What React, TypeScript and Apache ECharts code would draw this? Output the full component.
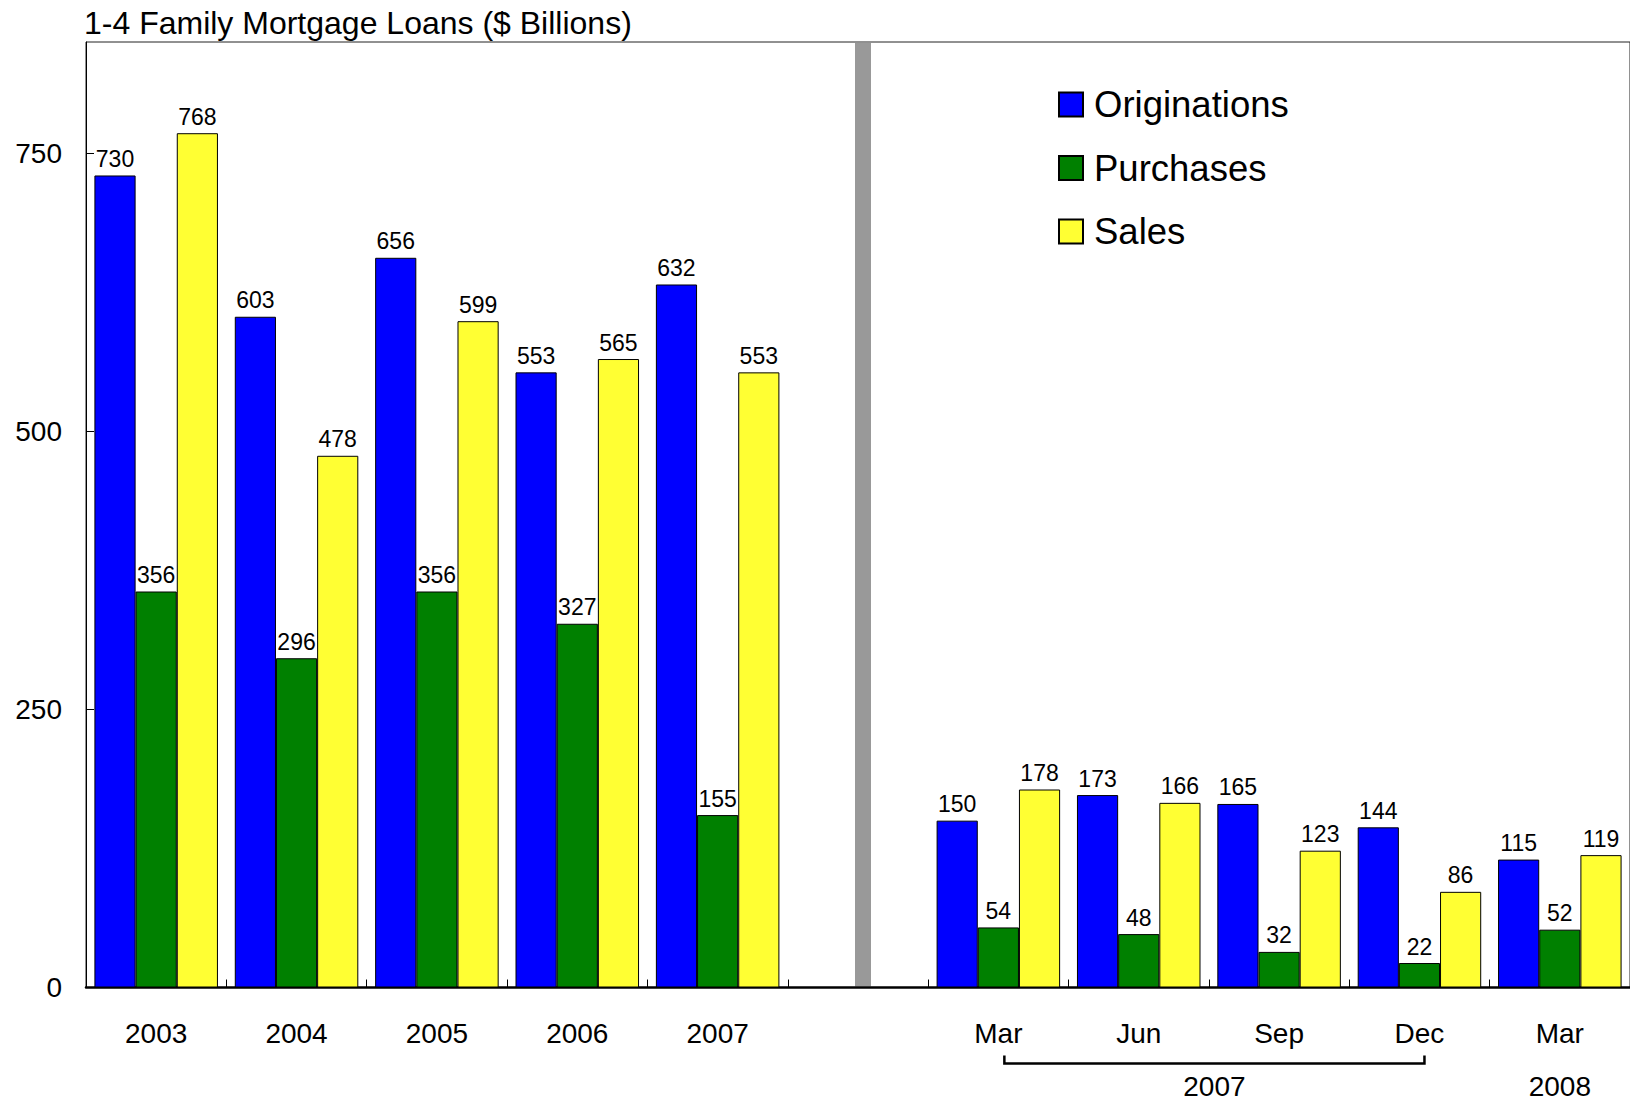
import React, { useEffect, useRef } from "react";
import * as echarts from "echarts";

const TITLE = "1-4 Family Mortgage Loans ($ Billions)";
const categories = ["2003", "2004", "2005", "2006", "2007", "", "Mar", "Jun", "Sep", "Dec", "Mar"];
const originations: (number | string)[] = [730, 603, 656, 553, 632, "-", 150, 173, 165, 144, 115];
const purchases: (number | string)[] = [356, 296, 356, 327, 155, "-", 54, 48, 32, 22, 52];
const sales: (number | string)[] = [768, 478, 599, 565, 553, "-", 178, 166, 123, 86, 119];
const yTicks = [0, 250, 500, 750];
const yMax = 850;
const dividerIndex = 5;
const group2007 = { label: "2007", from: 6, to: 9 };
const group2008 = { label: "2008", at: 10 };

const FONT = "'Liberation Sans', Arial, Helvetica, sans-serif";

export default function App() {
  const ref = useRef<HTMLDivElement>(null);
  useEffect(() => {
    if (!ref.current) return;
    const chart = echarts.init(ref.current, undefined, { renderer: "svg" });
    const label = {
      show: true,
      position: "top" as const,
      distance: 5,
      color: "#000",
      fontSize: 23,
      lineHeight: 23,
      fontFamily: FONT,
    };
    const mkSeries = (name: string, data: (number | string)[], color: string) => ({
      name,
      type: "bar",
      data,
      barGap: "0%",
      barCategoryGap: "12%",
      itemStyle: { color, borderColor: "#000", borderWidth: 1 },
      label,
      emphasis: { disabled: true },
    });
    chart.setOption({
      animation: false,
      title: {
        text: TITLE,
        left: 84,
        top: 7,
        padding: 0,
        textStyle: { fontSize: 32, lineHeight: 32, fontWeight: "normal", color: "#000", fontFamily: FONT },
      },
      legend: {
        orient: "vertical",
        left: 1058,
        top: 86,
        padding: 0,
        itemWidth: 24,
        itemHeight: 24,
        itemGap: 26.5,
        icon: "rect",
        selectedMode: false,
        textStyle: { fontSize: 36.5, lineHeight: 36.5, color: "#000", fontFamily: FONT, padding: [0, 0, 0, 6] },
        data: ["Originations", "Purchases", "Sales"],
      },
      grid: {
        left: 86,
        right: -4,
        top: 42,
        bottom: 115.5,
        show: true,
        borderColor: "#222",
        borderWidth: 1,
        containLabel: false,
      },
      xAxis: {
        type: "category",
        data: categories,
        axisLine: { show: true, lineStyle: { color: "#000", width: 2.5 } },
        axisTick: { show: true, inside: true, length: 8, lineStyle: { color: "#000", width: 1 } },
        axisLabel: { color: "#000", fontSize: 28, lineHeight: 28, margin: 32, fontFamily: FONT, interval: 0 },
        splitLine: { show: false },
      },
      yAxis: {
        type: "value",
        min: yTicks[0],
        max: yMax,
        interval: yTicks[1] - yTicks[0],
        axisLine: { show: true, lineStyle: { color: "#000", width: 1 } },
        axisTick: { show: true, inside: true, length: 8, lineStyle: { color: "#000" } },
        axisLabel: { color: "#000", fontSize: 28, margin: 24, fontFamily: FONT, showMaxLabel: false },
        splitLine: { show: false },
      },
      series: [
        mkSeries("Originations", originations, "#0000FF"),
        mkSeries("Purchases", purchases, "#008000"),
        mkSeries("Sales", sales, "#FFFF33"),
      ],
    });

    const xAt = (i: number) => chart.convertToPixel({ xAxisIndex: 0 }, i) as number;
    const axisY = chart.convertToPixel({ yAxisIndex: 0 }, 0) as number;
    const topY = chart.convertToPixel({ yAxisIndex: 0 }, yMax) as number;
    const xa = xAt(group2007.from) + 6;
    const xb = xAt(group2007.to) + 5;
    const dx = xAt(dividerIndex) + 5;
    chart.setOption({
      graphic: [
        {
          type: "rect",
          silent: true,
          z: -1,
          shape: { x: dx - 8, y: topY + 1, width: 16, height: axisY - topY - 2 },
          style: { fill: "#999999" },
        },
        {
          type: "polyline",
          silent: true,
          shape: {
            points: [
              [xa, axisY + 68],
              [xa, axisY + 76],
              [xb, axisY + 76],
              [xb, axisY + 68],
            ],
          },
          style: { stroke: "#000", lineWidth: 2.5, fill: null },
        },
        {
          type: "text",
          silent: true,
          x: (xa + xb) / 2,
          y: axisY + 99,
          style: {
            text: group2007.label,
            fontSize: 28,
            fontFamily: FONT,
            fill: "#000",
            align: "center",
            verticalAlign: "middle",
          },
        },
        {
          type: "text",
          silent: true,
          x: xAt(group2008.at),
          y: axisY + 99,
          style: {
            text: group2008.label,
            fontSize: 28,
            fontFamily: FONT,
            fill: "#000",
            align: "center",
            verticalAlign: "middle",
          },
        },
      ],
    });
    return () => chart.dispose();
  }, []);
  return (
    <div
      ref={ref}
      style={{ position: "absolute", left: 0, top: 0, width: 1630, height: 1103, background: "#fff" }}
    />
  );
}
